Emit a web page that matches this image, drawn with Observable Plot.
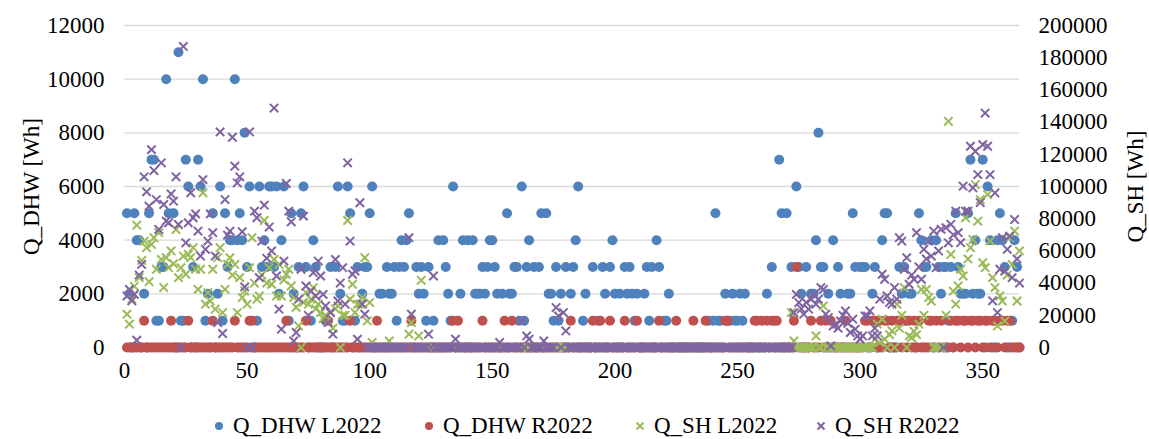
<!DOCTYPE html>
<html><head><meta charset="utf-8">
<script src="https://cdn.jsdelivr.net/npm/d3@7"></script>
<script src="https://cdn.jsdelivr.net/npm/@observablehq/plot@0.6"></script>
<style>
html,body{margin:0;padding:0;background:#fff;}
body{width:1149px;height:439px;overflow:hidden;font-family:"Liberation Serif","Times New Roman",serif;color:#000;}
#chart svg{display:block;}
#legend{position:relative;height:44px;width:1149px;}
.lg{position:absolute;top:0;height:44px;display:flex;align-items:center;font-size:23px;white-space:nowrap;}
.lg svg{display:block;margin-right:8px;}
</style></head>
<body><div id="chart"></div><div id="legend"></div>
<script>
// x: day of year 1..365
const xTicks = [0, 50, 100, 150, 200, 250, 300, 350];
const leftTicks = [0, 2000, 4000, 6000, 8000, 10000, 12000];
const rightTicks = [0, 20000, 40000, 60000, 80000, 100000, 120000, 140000, 160000, 180000, 200000];
const seriesNames = ["Q_DHW L2022", "Q_DHW R2022", "Q_SH L2022", "Q_SH R2022"];
const seriesColors = ["#4f81bd", "#c0504d", "#9bbb59", "#8064a2"];

// Q_DHW L2022 [Wh], days 1..365
const dhwL = [
5000,2000,0,5000,4000,4000,0,2000,0,5000,
7000,7000,1000,1000,3000,3000,10000,5000,0,5000,
0,11000,1000,1000,7000,6000,0,3000,0,7000,
6000,10000,1000,2000,0,5000,0,2000,6000,1000,
5000,3000,4000,4000,10000,4000,5000,4000,8000,3000,
6000,0,0,1000,6000,3000,4000,3000,6000,6000,
3000,6000,2000,4000,6000,0,1000,5000,2000,0,
3000,5000,6000,3000,0,1000,4000,3000,0,0,
0,1000,0,3000,0,3000,6000,2000,1000,1000,
6000,5000,0,1000,3000,0,2000,3000,3000,5000,
6000,0,0,2000,2000,0,3000,2000,2000,3000,
1000,3000,4000,3000,4000,5000,0,0,3000,2000,
3000,2000,1000,3000,0,1000,0,4000,0,4000,
3000,2000,1000,6000,0,0,2000,4000,0,4000,
0,4000,2000,2000,2000,3000,2000,3000,4000,4000,
3000,2000,0,2000,0,5000,2000,2000,3000,3000,
1000,6000,1000,3000,4000,0,3000,0,3000,5000,
0,5000,2000,2000,1000,3000,1000,2000,0,3000,
0,2000,3000,4000,6000,0,1000,2000,0,0,
3000,0,1000,0,3000,2000,0,3000,4000,2000,
0,2000,0,3000,2000,3000,2000,1000,2000,0,
0,2000,3000,1000,3000,0,4000,3000,0,1000,
1000,2000,0,0,0,0,0,0,0,0,
0,0,0,0,0,0,0,1000,0,1000,
5000,1000,1000,0,2000,1000,1000,2000,1000,1000,
2000,1000,2000,0,0,0,0,0,0,0,
0,2000,0,3000,1000,0,7000,5000,0,5000,
0,3000,0,6000,3000,2000,0,3000,0,2000,
2000,4000,8000,3000,3000,0,2000,0,4000,0,
3000,2000,0,0,2000,2000,5000,3000,0,3000,
3000,3000,0,0,2000,3000,0,0,4000,5000,
5000,0,0,0,0,3000,2000,3000,1000,2000,
2000,0,0,5000,4000,3000,3000,0,4000,0,
4000,3000,2000,3000,3000,1000,3000,0,5000,3000,
2000,2000,2000,5000,7000,2000,4000,2000,2000,7000,
0,6000,4000,0,0,4000,5000,4000,3000,0,
0,1000,4000,3000,0
];

// Q_DHW R2022 [Wh], days 1..365
const dhwR = [
0,0,0,0,0,0,0,1000,0,0,
0,0,0,0,0,0,0,0,1000,0,
0,0,0,0,0,1000,0,0,0,0,
0,0,0,0,0,1000,0,0,0,0,
0,0,0,0,1000,0,0,0,0,0,
1000,1000,0,0,0,0,0,0,0,0,
0,0,0,0,0,1000,0,0,0,0,
0,0,0,1000,0,0,0,0,0,0,
0,0,1000,0,0,0,0,0,0,0,
0,1000,0,0,0,0,0,0,0,0,
0,0,1000,0,0,0,0,0,0,0,
0,0,0,0,0,0,1000,0,0,0,
0,0,0,0,0,0,0,0,0,0,
0,0,0,1000,0,1000,0,0,0,0,
0,0,0,0,0,1000,0,0,0,0,
0,0,0,0,1000,0,0,1000,0,0,
0,0,0,0,0,0,0,0,0,0,
0,0,0,0,0,0,0,0,0,0,
0,1000,0,0,0,0,0,0,0,0,
1000,0,0,1000,0,0,0,1000,0,0,
0,0,0,1000,0,0,0,0,1000,0,
0,0,0,0,0,0,0,1000,0,0,
0,0,0,0,1000,0,0,0,0,0,
0,1000,0,0,0,0,1000,0,0,0,
0,0,0,0,1000,1000,0,0,0,0,
0,0,0,0,0,0,1000,1000,0,1000,
0,1000,0,1000,0,1000,0,0,0,0,
0,0,1000,3000,0,0,0,0,0,1000,
0,0,0,1000,0,1000,0,1000,0,0,
0,0,0,1000,0,0,0,0,0,0,
0,1000,1000,0,1000,1000,0,1000,0,1000,
1000,0,1000,0,1000,1000,0,1000,0,1000,
0,1000,0,1000,0,0,0,1000,1000,0,
1000,0,1000,0,0,0,1000,0,1000,1000,
0,1000,1000,0,1000,1000,0,1000,1000,0,
1000,1000,0,1000,1000,0,1000,1000,0,1000,
1000,0,0,0,0
];

// Q_SH L2022 [Wh], days 1..365
const shL = [
20700,14500,30000,38000,76000,43400,54100,66100,62000,40900,
64000,68200,48600,71300,54700,37200,55800,49600,60000,52000,
73300,43400,49600,56800,45500,57800,55800,62000,48600,36100,
48600,96100,26900,34100,28900,48600,23800,55800,62000,21700,
36100,51600,55800,45000,51600,21700,43400,31000,35100,26900,
49600,68200,40000,30000,32000,45000,78900,40000,49600,39300,
54700,32000,51600,32000,42000,45500,48600,38200,31000,25000,
13400,0,28000,34100,26900,30000,37200,24000,26900,21700,
18000,20000,16000,22000,12000,24000,25800,0,20000,20000,
78900,30000,39300,21700,26900,26900,31000,55800,16500,27900,
3100,0,0,0,0,0,0,4100,0,0,
0,0,0,0,0,8300,15500,0,0,7200,
41700,0,0,0,0,0,0,0,0,0,
0,0,0,0,0,0,0,0,0,0,
0,0,0,0,0,0,0,0,0,0,
0,0,0,0,0,0,0,0,0,0,
0,0,0,0,0,0,0,0,0,0,
0,0,0,0,0,0,0,0,0,0,
0,0,0,0,0,0,0,0,0,0,
0,0,0,0,0,0,0,0,0,0,
0,0,0,0,0,0,0,0,0,0,
0,0,0,0,0,0,0,0,0,0,
0,0,0,0,0,0,0,0,0,0,
0,0,0,0,0,0,0,0,0,0,
0,0,0,0,0,0,0,0,0,0,
0,0,0,0,0,0,0,0,0,0,
0,0,0,0,0,0,0,0,0,0,
0,21700,4100,0,0,0,0,0,0,0,
0,7200,0,0,25800,0,0,0,0,0,
0,0,0,0,0,0,0,0,0,0,
0,0,0,0,0,5000,14500,3000,17600,5200,
0,8000,10300,0,26900,12000,20000,37200,0,7200,
6200,10000,8000,14500,36100,20000,36100,31000,28900,0,
0,0,0,0,20000,140500,57800,35000,26900,38200,
48600,44400,80600,55000,62000,67100,101200,78500,91900,52700,
49600,95000,66100,43400,37200,13400,32000,28900,16500,45000,
68200,51600,72300,28900,60000
];

// Q_SH R2022 [Wh], days 1..365
const shR = [
32000,36100,29000,33000,4500,45000,51600,106000,96700,87800,
122900,109900,91900,73300,114700,88800,78500,77500,95400,90900,
106000,76400,0,187000,65000,77500,96100,80600,83000,72300,
56800,104300,61000,66100,83000,71300,56800,15500,133900,8700,
91900,69800,72300,130600,112600,102300,106000,71900,37600,0,
133900,0,84700,80600,43400,66100,88400,55400,74800,60000,
148700,44400,23800,11400,53700,101900,84700,78100,4100,9300,
30000,48600,81600,38200,20000,35000,46500,32000,53700,44400,
33000,25800,15500,21700,8300,54700,28900,40000,49600,26900,
114700,66100,45500,47500,5200,89900,26900,20700,0,0,
0,0,0,0,0,0,0,0,0,0,
0,0,0,0,0,68200,20700,0,0,0,
0,0,0,8300,0,44400,0,0,0,0,
0,0,0,0,5200,0,0,0,0,0,
0,0,0,0,0,0,0,0,0,0,
0,0,3100,0,0,0,0,0,0,0,
0,16500,0,7200,5200,0,0,0,0,0,
4100,0,0,0,0,24800,19600,0,21700,10300,
0,0,0,0,0,0,0,0,0,0,
0,0,0,0,0,0,0,0,0,0,
0,0,0,0,0,0,0,0,0,0,
0,0,0,0,0,0,0,0,0,0,
0,0,0,0,0,0,0,0,0,0,
0,0,0,0,0,0,0,0,0,0,
0,0,0,0,0,0,0,0,0,0,
0,0,0,0,0,0,0,0,0,0,
0,0,0,0,0,0,0,0,0,0,
0,0,21700,33000,27900,24000,20700,28000,23800,30000,
33000,26900,30000,37200,36100,20700,18600,1000,13400,14500,
12000,16500,20000,22700,15000,9300,17600,11400,7200,5200,
7200,19600,19600,22700,7200,12000,7200,30000,45500,42400,
32000,28000,26900,37200,30000,68200,66100,48600,55800,39300,
45000,42400,71300,50000,42400,61000,55000,66100,56800,72300,
49600,60000,73400,0,74400,65000,76500,70000,84700,71300,
65100,100200,84700,84700,125000,99200,121900,107400,90000,126000,
145600,125000,107400,29000,96000,21700,48600,68200,47500,61000,
69200,43400,79500,55000,40000
];

// secondary axis: 0..200000 on the right maps onto 0..12000 on the left
const SH_FACTOR = 12000 / 200000;
const toRows = (vals, k) => vals.map((v, i) => ({day: i + 1, y: v * k}));

const FONT = "Liberation Serif, Times New Roman, serif";

const chart = Plot.plot({
  width: 1149,
  height: 395,
  marginLeft: 124,
  marginRight: 130,
  marginTop: 25,
  marginBottom: 48,
  style: {fontFamily: FONT, fontSize: "23px", background: "#fff", color: "#000", overflow: "visible"},
  x: {domain: [0, 365]},
  y: {domain: [0, 12000]},
  marks: [
    Plot.gridY(leftTicks, {stroke: "#d9d9d9", strokeOpacity: 1, strokeWidth: 1.4}),
    Plot.axisX(xTicks, {tickSize: 0, tickPadding: 14, fontSize: 23, tickFormat: d => String(d), label: null}),
    Plot.axisY(leftTicks, {anchor: "left", tickSize: 0, tickPadding: 20, fontSize: 23, tickFormat: d => String(d), label: null}),
    Plot.axisY(rightTicks.map(v => v * SH_FACTOR), {anchor: "right", tickSize: 0, tickPadding: 19, fontSize: 23,
      tickFormat: d => String(Math.round(d / SH_FACTOR)), label: null}),
    Plot.dot(toRows(dhwL, 1), {x: "day", y: "y", r: 5, fill: seriesColors[0]}),
    Plot.dot(toRows(dhwR, 1), {x: "day", y: "y", r: 5, fill: seriesColors[1]}),
    Plot.dot(toRows(shL, SH_FACTOR), {x: "day", y: "y", symbol: "times", r: 3.9, stroke: seriesColors[2], strokeWidth: 2}),
    Plot.dot(toRows(shR, SH_FACTOR), {x: "day", y: "y", symbol: "times", r: 3.9, stroke: seriesColors[3], strokeWidth: 2}),
    Plot.text(["Q_DHW [Wh]"], {text: d => d, frameAnchor: "left", dx: -93, dy: 0, rotate: -90, fontSize: 23,
      textAnchor: "middle", lineAnchor: "middle", fill: "#000"}),
    Plot.text(["Q_SH [Wh]"], {text: d => d, frameAnchor: "right", dx: 116, dy: 0, rotate: -90, fontSize: 23,
      textAnchor: "middle", lineAnchor: "middle", fill: "#000"})
  ]
});
document.getElementById("chart").appendChild(chart);

// legend below the chart
const legendPos = [[213, 234], [423, 442], [634, 654], [815, 832]];
const legend = document.getElementById("legend");
seriesNames.forEach((name, i) => {
  const item = document.createElement("div");
  item.className = "lg";
  item.style.left = legendPos[i][0] + "px";
  item.style.top = "9px";
  const ns = "http://www.w3.org/2000/svg";
  const s = document.createElementNS(ns, "svg");
  s.setAttribute("width", "12"); s.setAttribute("height", "12");
  if (i < 2) {
    const c = document.createElementNS(ns, "circle");
    c.setAttribute("cx", 6); c.setAttribute("cy", 6); c.setAttribute("r", 4);
    c.setAttribute("fill", seriesColors[i]);
    s.appendChild(c);
  } else {
    const p = document.createElementNS(ns, "path");
    p.setAttribute("d", "M2.5,2.5L9.5,9.5M2.5,9.5L9.5,2.5");
    p.setAttribute("stroke", seriesColors[i]); p.setAttribute("stroke-width", "2"); p.setAttribute("fill", "none");
    s.appendChild(p);
  }
  item.appendChild(s);
  const t = document.createElement("span");
  t.textContent = name;
  item.appendChild(t);
  legend.appendChild(item);
});
</script>
</body></html>
